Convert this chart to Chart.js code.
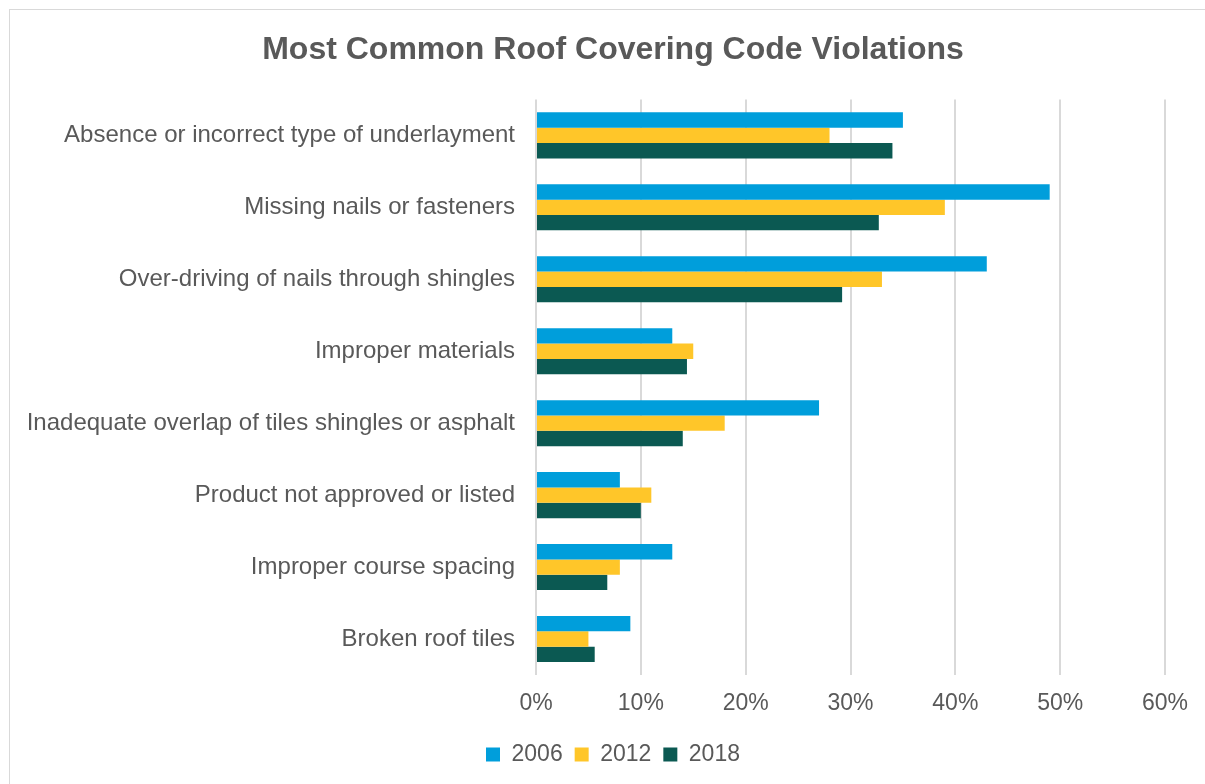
<!DOCTYPE html>
<html>
<head>
<meta charset="utf-8">
<script src="https://cdn.jsdelivr.net/npm/chart.js@4.4.0/dist/chart.umd.min.js"></script>
<style>
  html, body { margin: 0; padding: 0; background: #fff; overflow: hidden; }
  #frame { position: absolute; left: 9px; top: 9px; width: 1300px; height: 900px; border: 1.5px solid #d9d9d9; }
  #wrap { position: absolute; left: 0; top: 0; width: 1205px; height: 784px; }
</style>
</head>
<body>
<div id="frame"></div>
<div id="wrap"><canvas id="roofChart"></canvas></div>
<script>
const categories = [
    'Absence or incorrect type of underlayment',
    'Missing nails or fasteners',
    'Over-driving of nails through shingles',
    'Improper materials',
    'Inadequate overlap of tiles shingles or asphalt',
    'Product not approved or listed',
    'Improper course spacing',
    'Broken roof tiles'
];
const values2006 = [35, 49, 43, 13, 27, 8, 13, 9];
const values2012 = [28, 39, 33, 15, 18, 11, 8, 5];
const values2018 = [34, 32.7, 29.2, 14.4, 14, 10, 6.8, 5.6];
const xTicks = [0, 10, 20, 30, 40, 50, 60];

const textColor = '#595959';
const fontFamily = 'Liberation Sans, Arial, sans-serif';

// the long category labels reach past the left padding, so widen the
// y axis label clip area back to the canvas edge
const unclipLabels = {
    id: 'unclipLabels',
    afterLayout: chart => { chart.scales.y.left = 0; }
};

const ctx = document.getElementById('roofChart').getContext('2d');
new Chart(ctx, {
    type: 'bar',
    data: {
        labels: categories,
        datasets: [
            { label: '2006', data: values2006, backgroundColor: '#009EDB' },
            { label: '2012', data: values2012, backgroundColor: '#FFC629' },
            { label: '2018', data: values2018, backgroundColor: '#0B5952' }
        ]
    },
    plugins: [unclipLabels],
    options: {
        indexAxis: 'y',
        responsive: true,
        maintainAspectRatio: false,
        animation: false,
        datasets: {
            bar: { barPercentage: 1.0, categoryPercentage: 0.64 }
        },
        // left padding keeps the title centred where the original has it
        layout: { padding: { top: 10, right: 40, bottom: 8, left: 61 } },
        plugins: {
            title: {
                display: true,
                text: 'Most Common Roof Covering Code Violations',
                color: textColor,
                font: { family: fontFamily, size: 32, weight: 'bold' },
                padding: { top: 21, bottom: 30 }
            },
            legend: {
                position: 'bottom',
                labels: {
                    color: textColor,
                    boxWidth: 14,
                    boxHeight: 14,
                    padding: 12,
                    font: { family: fontFamily, size: 23 }
                }
            },
            tooltip: { enabled: false }
        },
        scales: {
            x: {
                min: 0,
                max: 60,
                afterBuildTicks: axis => { axis.ticks = xTicks.map(v => ({ value: v })); },
                afterFit: axis => { axis.height = 56; },
                ticks: {
                    color: textColor,
                    padding: 15,
                    font: { family: fontFamily, size: 23 },
                    callback: v => v + '%'
                },
                grid: { color: '#d9d9d9', lineWidth: 2, drawTicks: false },
                border: { display: false }
            },
            y: {
                afterFit: axis => { axis.width = 475; },
                ticks: {
                    color: textColor,
                    padding: 21,
                    font: { family: fontFamily, size: 24 }
                },
                grid: { display: false, drawTicks: false },
                border: { display: false }
            }
        }
    }
});
</script>
</body>
</html>
